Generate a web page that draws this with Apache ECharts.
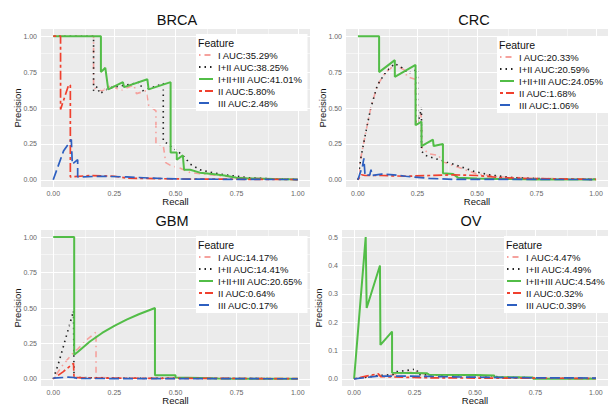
<!DOCTYPE html>
<html>
<head>
<meta charset="utf-8">
<script src="https://cdn.jsdelivr.net/npm/echarts@6/dist/echarts.min.js"></script>
<style>
html, body { margin: 0; padding: 0; background: #fff; }
#chart { width: 608px; height: 406px; }
</style>
</head>
<body>
<div id="chart"></div>
<script>
// tick values
const unitTicks = [0, 0.25, 0.5, 0.75, 1]
const unitMinor = [0.125, 0.375, 0.625, 0.875]
const ovTicks = [0, 0.1, 0.2, 0.3, 0.4, 0.5]
const ovMinor = [0.05, 0.15, 0.25, 0.35, 0.45]

// legend labels
const features = ['I', 'I+II', 'I+II+III', 'II', 'III']
const brcaAuc = ['35.29%', '38.25%', '41.01%', '5.80%', '2.48%']
const crcAuc = ['20.33%', '20.59%', '24.05%', '1.68%', '1.06%']
const gbmAuc = ['14.17%', '14.41%', '20.65%', '0.64%', '0.17%']
const ovAuc = ['4.47%', '4.49%', '4.54%', '0.32%', '0.39%']

// BRCA curves [recall, precision]
const brcaI = [[0,1],[0.165,1],[0.165,0.64],[0.2,0.62],[0.24,0.66],[0.27,0.62],[0.33,0.66],[0.34,0.6],[0.38,0.62],[0.39,0.52],[0.42,0.48],[0.42,0.25],[0.45,0.24],[0.46,0.12],[0.48,0.1],[0.52,0.08],[0.56,0.05],[0.62,0.04],[0.7,0.025],[0.8,0.012],[0.9,0.005],[1,0.002]]
const brcaI2 = [[0,1],[0.165,1],[0.165,0.62],[0.18,0.65],[0.19,0.6],[0.23,0.64],[0.3,0.66],[0.355,0.68],[0.365,0.62],[0.45,0.67],[0.45,0.27],[0.46,0.26],[0.49,0.22],[0.5,0.21],[0.53,0.17],[0.56,0.11],[0.6,0.07],[0.65,0.05],[0.7,0.035],[0.8,0.015],[0.9,0.006],[1,0.002]]
const brcaI23 = [[0,1],[0.195,1],[0.195,0.75],[0.213,0.78],[0.225,0.63],[0.285,0.68],[0.29,0.645],[0.385,0.7],[0.39,0.63],[0.48,0.68],[0.48,0.19],[0.505,0.19],[0.505,0.14],[0.53,0.17],[0.535,0.07],[0.56,0.07],[0.6,0.05],[0.65,0.04],[0.7,0.03],[0.75,0.015],[0.8,0.01],[0.9,0.005],[1,0.003]]
const brcaII = [[0,1],[0.03,1],[0.03,0.49],[0.063,0.66],[0.07,0.66],[0.07,0.02],[0.15,0.03],[0.25,0.025],[0.3,0.012],[0.5,0.006],[0.75,0.004],[1,0.002]]
const brcaIII = [[0,0],[0.042,0.2],[0.074,0.28],[0.078,0.11],[0.1,0.14],[0.1,0.02],[0.2,0.025],[0.3,0.02],[0.4,0.012],[0.5,0.006],[0.75,0.003],[1,0.002]]

// CRC curves
const crcI = [[0,0],[0.012,0.15],[0.033,0.33],[0.054,0.5],[0.082,0.66],[0.117,0.75],[0.155,0.8],[0.2,0.76],[0.205,0.72],[0.24,0.7],[0.245,0.38],[0.265,0.46],[0.27,0.22],[0.3,0.18],[0.34,0.17],[0.35,0.13],[0.4,0.1],[0.45,0.07],[0.5,0.04],[0.6,0.02],[0.75,0.01],[1,0.003]]
const crcI2 = [[0,0],[0.012,0.15],[0.033,0.33],[0.054,0.5],[0.082,0.66],[0.117,0.75],[0.155,0.81],[0.185,0.78],[0.21,0.74],[0.25,0.77],[0.25,0.38],[0.267,0.5],[0.267,0.2],[0.283,0.17],[0.32,0.15],[0.367,0.127],[0.408,0.104],[0.49,0.058],[0.55,0.035],[0.65,0.015],[0.8,0.006],[1,0.003]]
const crcI23 = [[0,1],[0.089,1],[0.089,0.75],[0.155,0.833],[0.155,0.717],[0.242,0.8],[0.242,0.38],[0.267,0.405],[0.267,0.235],[0.315,0.28],[0.318,0.235],[0.357,0.25],[0.357,0.046],[0.4,0.04],[0.42,0.015],[0.5,0.01],[0.6,0.006],[0.75,0.003],[1,0.002]]
const crcII = [[0,0],[0.015,0.035],[0.03,0.03],[0.1,0.03],[0.2,0.025],[0.3,0.03],[0.4,0.035],[0.5,0.03],[0.6,0.015],[0.75,0.008],[1,0.003]]
const crcIII = [[0,0],[0.02,0.1],[0.025,0.15],[0.03,0.03],[0.05,0.035],[0.055,0.07],[0.06,0.03],[0.1,0.04],[0.15,0.035],[0.2,0.025],[0.3,0.01],[0.4,0.003],[1,0.002]]

// GBM curves
const gbmI = [[0,0],[0.04,0.1],[0.085,0.19],[0.1,0.21],[0.14,0.28],[0.175,0.33],[0.175,0.01],[0.3,0.005],[0.5,0.003],[1,0.001]]
const gbmI2 = [[0,0],[0.02,0.1],[0.05,0.28],[0.083,0.48],[0.085,0.01],[0.3,0.005],[1,0.001]]
const gbmI23 = [[0,1],[0.0857,1],[0.0857,0.17],[0.1,0.19],[0.15,0.264],[0.2,0.324],[0.25,0.374],[0.3,0.418],[0.35,0.456],[0.416,0.5],[0.416,0.025],[0.5,0.025],[0.5,0.01],[0.6,0.006],[0.67,0.003],[0.75,0.001],[1,0.001]]
const gbmII = [[0,0],[0.04,0.05],[0.083,0.11],[0.085,0.01],[0.2,0.005],[0.5,0.004],[1,0.002]]
const gbmIII = [[0,0.005],[0.06,0.012],[0.085,0.01],[0.1,0.003],[0.5,0.002],[1,0.001]]

// OV curves
const ovI = [[0,0],[0.1,0.012],[0.16,0.015],[0.2,0.02],[0.26,0.025],[0.3,0.015],[0.4,0.013],[0.5,0.011],[0.57,0.01],[0.6,0.005],[0.75,0.004],[0.76,0.001],[1,0.001]]
const ovI2 = [[0,0],[0.1,0.012],[0.16,0.015],[0.17,0.025],[0.22,0.03],[0.26,0.035],[0.265,0.015],[0.4,0.014],[0.5,0.012],[0.57,0.011],[0.6,0.006],[0.74,0.004],[0.75,0.001],[1,0.001]]
const ovI23 = [[0,0],[0.048,0.5],[0.052,0.25],[0.107,0.4],[0.109,0.12],[0.157,0.167],[0.157,0.022],[0.3,0.02],[0.31,0.015],[0.5,0.014],[0.58,0.012],[0.58,0.006],[0.74,0.005],[0.74,0.001],[1,0.001]]
const ovII = [[0,0],[0.05,0.01],[0.1,0.018],[0.11,0.008],[0.2,0.006],[0.3,0.004],[0.5,0.003],[1,0.002]]
const ovIII = [[0,0],[0.1,0.01],[0.2,0.01],[0.3,0.009],[0.5,0.006],[0.75,0.004],[1,0.003]]

const font = 'Liberation Sans, Arial, sans-serif'

// 线型：dotdash / dotted / solid / twodash / longdash
const styles = [
  { color: '#f5a19d', width: 1.6, type: [1.5, 4, 6, 4] },
  { color: '#222222', width: 1.6, type: [1.5, 4] },
  { color: '#52bd47', width: 2, type: 'solid' },
  { color: '#f0402e', width: 1.7, type: [3, 3, 9, 3] },
  { color: '#2d5fc0', width: 1.7, type: [10, 4] }
]

const panels = [
  { name: 'BRCA', auc: brcaAuc, curves: [brcaI, brcaI2, brcaI23, brcaII, brcaIII], yTicks: unitTicks, yMinor: unitMinor, yMax: 1, digits: 2,
    grid: { left: 41, top: 29, width: 269, height: 158 }, titleX: 177, titleY: 12, legendX: 196, legendY: 34 },
  { name: 'CRC', auc: crcAuc, curves: [crcI, crcI2, crcI23, crcII, crcIII], yTicks: unitTicks, yMinor: unitMinor, yMax: 1, digits: 2,
    grid: { left: 346, top: 29, width: 262, height: 158 }, titleX: 474, titleY: 12, legendX: 497, legendY: 36 },
  { name: 'GBM', auc: gbmAuc, curves: [gbmI, gbmI2, gbmI23, gbmII, gbmIII], yTicks: unitTicks, yMinor: unitMinor, yMax: 1, digits: 2,
    grid: { left: 41, top: 230, width: 269, height: 158 }, titleX: 172, titleY: 213, legendX: 196, legendY: 236 },
  { name: 'OV', auc: ovAuc, curves: [ovI, ovI2, ovI23, ovII, ovIII], yTicks: ovTicks, yMinor: ovMinor, yMax: 0.5, digits: 1,
    grid: { left: 342, top: 230, width: 268, height: 158 }, titleX: 471, titleY: 213, legendX: 504, legendY: 236 }
]

const option = {
  animation: false,
  textStyle: { fontFamily: font },
  title: [],
  legend: [],
  grid: [],
  xAxis: [],
  yAxis: [],
  series: []
}

panels.forEach((p, i) => {
  const names = features.map((f, k) => f + ' AUC:' + p.auc[k])

  option.grid.push({
    ...p.grid,
    show: true,
    backgroundColor: '#ebebeb',
    borderWidth: 0
  })

  option.title.push({
    text: p.name,
    left: p.titleX,
    top: p.titleY,
    textAlign: 'center',
    padding: 0,
    textStyle: { fontSize: 14.5, fontWeight: 'normal', color: '#111', fontFamily: font }
  })
  option.title.push({
    text: 'Feature',
    left: p.legendX + 2,
    top: p.legendY + 3,
    padding: 0,
    z: 21,
    textStyle: { fontSize: 10.5, fontWeight: 'normal', color: '#111', fontFamily: font }
  })

  option.legend.push({
    data: names,
    left: p.legendX,
    top: p.legendY,
    orient: 'vertical',
    selectedMode: false,
    z: 20,
    itemWidth: 14,
    itemHeight: 8,
    itemGap: 2,
    padding: [16, 5, 3, 2],
    backgroundColor: '#fff',
    // 隐藏图例中间的圆点，只保留线型
    itemStyle: { opacity: 0, borderWidth: 0 },
    textStyle: { fontSize: 9.5, color: '#111', lineHeight: 10, fontFamily: font }
  })

  option.xAxis.push({
    gridIndex: i,
    type: 'value',
    min: -0.05,
    max: 1.05,
    name: 'Recall',
    nameLocation: 'middle',
    nameGap: 9,
    nameMoveOverlap: false,
    nameTextStyle: { fontSize: 9.5, color: '#111' },
    axisLine: { show: false },
    axisTick: { customValues: unitTicks, length: 2.5, lineStyle: { color: '#555' } },
    axisLabel: { customValues: unitTicks, formatter: v => v.toFixed(2), fontSize: 7, color: '#666', margin: 3 },
    splitLine: { show: false }
  })

  option.yAxis.push({
    gridIndex: i,
    type: 'value',
    min: -0.05 * p.yMax,
    max: 1.05 * p.yMax,
    name: 'Precision',
    nameLocation: 'middle',
    nameGap: 19,
    nameMoveOverlap: false,
    nameTextStyle: { fontSize: 9.5, color: '#111' },
    axisLine: { show: false },
    axisTick: { customValues: p.yTicks, length: 2.5, lineStyle: { color: '#555' } },
    axisLabel: { customValues: p.yTicks, formatter: v => v.toFixed(p.digits), fontSize: 7, color: '#666', margin: 4 },
    splitLine: { show: false }
  })

  // 网格线（白色主/次网格）
  const gridLines = [
    ...unitTicks.map(v => ({ xAxis: v, lineStyle: { width: 1.1 } })),
    ...unitMinor.map(v => ({ xAxis: v, lineStyle: { width: 0.5 } })),
    ...p.yTicks.map(v => ({ yAxis: v, lineStyle: { width: 1.1 } })),
    ...p.yMinor.map(v => ({ yAxis: v, lineStyle: { width: 0.5 } }))
  ]
  option.series.push({
    type: 'line',
    xAxisIndex: i,
    yAxisIndex: i,
    data: [],
    silent: true,
    z: 1,
    markLine: {
      silent: true,
      symbol: 'none',
      label: { show: false },
      lineStyle: { color: '#fff', type: 'solid' },
      emphasis: { disabled: true },
      data: gridLines
    }
  })

  p.curves.forEach((c, k) => {
    option.series.push({
      name: names[k],
      type: 'line',
      xAxisIndex: i,
      yAxisIndex: i,
      data: c,
      symbol: 'none',
      silent: true,
      z: 3 + k,
      lineStyle: { ...styles[k] },
      itemStyle: { color: styles[k].color }
    })
  })
})

const chart = echarts.init(document.getElementById('chart'), null, { renderer: 'svg' })
chart.setOption(option)
</script>
</body>
</html>
